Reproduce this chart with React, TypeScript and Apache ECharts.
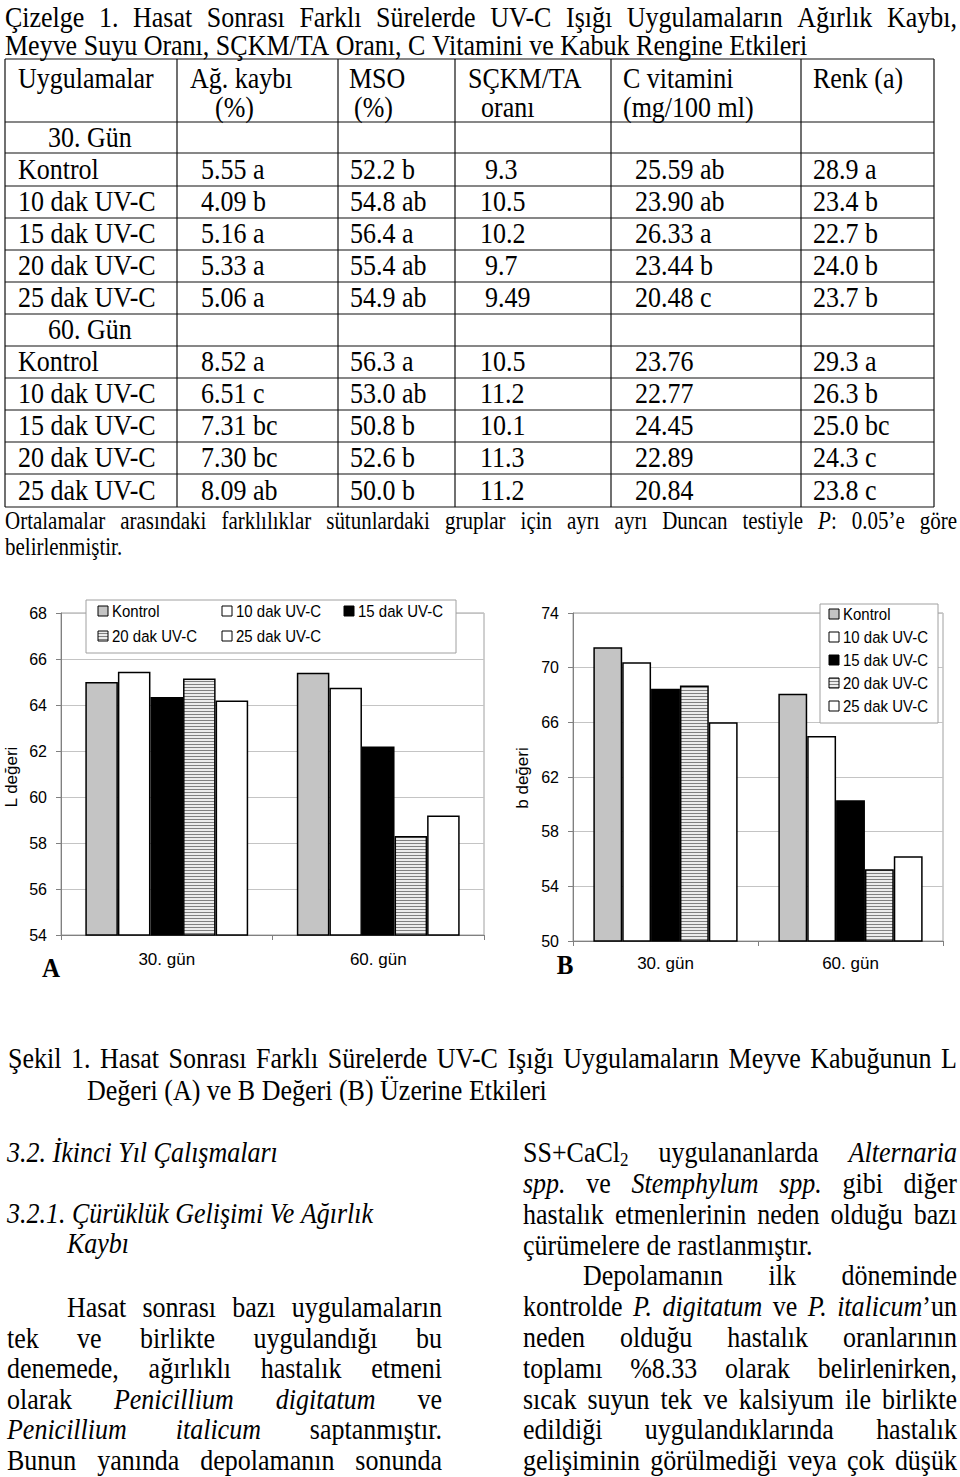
import React, { useEffect, useRef } from 'react';
import * as echarts from 'echarts';

// ---------- data ----------
const treatments = ['Kontrol', '10 dak UV-C', '15 dak UV-C', '20 dak UV-C', '25 dak UV-C'];
const days = ['30. gün', '60. gün'];
// L value (chart A) per treatment: [30. gün, 60. gün]
const lKontrol = [65.0, 65.4];
const l10dak = [65.45, 64.75];
const l15dak = [64.35, 62.2];
const l20dak = [65.15, 58.3];
const l25dak = [64.2, 59.2];
// b value (chart B) per treatment: [30. gün, 60. gün]
const bKontrol = [71.5, 68.1];
const b10dak = [70.4, 65.0];
const b15dak = [68.45, 60.3];
const b20dak = [68.7, 55.25];
const b25dak = [66.0, 56.2];
const lTickLabels = [54, 56, 58, 60, 62, 64, 66, 68];
const bTickLabels = [50, 54, 58, 62, 66, 70, 74];

// table
const tableHeaders1 = ['Uygulamalar', 'Ağ. kaybı', 'MSO', 'SÇKM/TA', 'C vitamini', 'Renk (a)'];
const tableHeaders2 = ['', '(%)', '(%)', 'oranı', '(mg/100 ml)', ''];
const dayLabels = ['30. Gün', '60. Gün'];
const agKaybi30 = ['5.55 a', '4.09 b', '5.16 a', '5.33 a', '5.06 a'];
const mso30 = ['52.2 b', '54.8 ab', '56.4 a', '55.4 ab', '54.9 ab'];
const sckm30 = ['9.3', '10.5', '10.2', '9.7', '9.49'];
const cvit30 = ['25.59 ab', '23.90 ab', '26.33 a', '23.44 b', '20.48 c'];
const renk30 = ['28.9 a', '23.4 b', '22.7 b', '24.0 b', '23.7 b'];
const agKaybi60 = ['8.52 a', '6.51 c', '7.31 bc', '7.30 bc', '8.09 ab'];
const mso60 = ['56.3 a', '53.0 ab', '50.8 b', '52.6 b', '50.0 b'];
const sckm60 = ['10.5', '11.2', '10.1', '11.3', '11.2'];
const cvit60 = ['23.76', '22.77', '24.45', '22.89', '20.84'];
const renk60 = ['29.3 a', '26.3 b', '25.0 bc', '24.3 c', '23.8 c'];

// ---------- layout ----------
const SERIF = '"Liberation Serif", "Times New Roman", serif';
const SANS = '"Liberation Sans", Arial, sans-serif';
const SY = 1.15;

let mctx: CanvasRenderingContext2D | null = null;
function measure(t: string, font: string) {
  if (!mctx) mctx = document.createElement('canvas').getContext('2d');
  mctx!.font = font;
  return mctx!.measureText(t).width;
}

function fontStr(size: number, italic = false, bold = false, family = SERIF) {
  return `${italic ? 'italic ' : ''}${bold ? 'bold ' : ''}${size}px ${family}`;
}

function txt(x: number, y: number, text: string, size: number, opt: any = {}) {
  return {
    type: 'text',
    x,
    y,
    rotation: opt.rotation || 0,
    scaleY: opt.sy ?? SY,
    z: opt.z ?? 50,
    silent: true,
    style: {
      text,
      x: 0,
      y: 0,
      fill: '#000',
      font: fontStr(size, opt.italic, opt.bold, opt.family || SERIF),
      textAlign: opt.align || 'left',
      textVerticalAlign: 'middle',
    },
  };
}

type Run = { t: string; it: boolean; sub: boolean };
function parseLine(s: string): Run[][] {
  const words: Run[][] = [];
  let it = false;
  let sub = false;
  let cur: Run[] = [];
  let buf = '';
  const flush = () => {
    if (buf) cur.push({ t: buf, it, sub });
    buf = '';
  };
  for (const ch of s) {
    if (ch === '*') { flush(); it = !it; }
    else if (ch === '~') { flush(); sub = !sub; }
    else if (ch === ' ') { flush(); if (cur.length) words.push(cur); cur = []; }
    else buf += ch;
  }
  flush();
  if (cur.length) words.push(cur);
  return words;
}

function layoutLine(out: any[], s: string, left: number, right: number, y: number, size: number, justify: boolean) {
  const words = parseLine(s);
  const rf = (r: Run) => fontStr(r.sub ? Math.round(size * 0.66) : size, r.it);
  const widths = words.map((w) => w.reduce((a, r) => a + measure(r.t, rf(r)), 0));
  const total = widths.reduce((a, b) => a + b, 0);
  const gap = justify && words.length > 1 ? (right - left - total) / (words.length - 1) : measure(' ', fontStr(size));
  let x = left;
  words.forEach((w, i) => {
    let cx = x;
    w.forEach((r) => {
      const sz = r.sub ? Math.round(size * 0.66) : size;
      out.push(txt(cx, y + (r.sub ? size * 0.28 : 0), r.t, sz, { italic: r.it }));
      cx += measure(r.t, rf(r));
    });
    x += widths[i] + gap;
  });
}

function stripePattern() {
  const c = document.createElement('canvas');
  c.width = 4;
  c.height = 3;
  const g = c.getContext('2d')!;
  g.fillStyle = '#ececec';
  g.fillRect(0, 0, 4, 3);
  g.fillStyle = '#808080';
  g.fillRect(0, 0, 4, 1);
  return { image: c.toDataURL(), repeat: 'repeat', imageWidth: 4, imageHeight: 3 } as any;
}

function buildOption() {
  const stripe = stripePattern();
  const fills: any[] = ['#c4c4c4', '#ffffff', '#000000', stripe, '#ffffff'];
  const lSeries = [lKontrol, l10dak, l15dak, l20dak, l25dak];
  const bSeries = [bKontrol, b10dak, b15dak, b20dak, b25dak];

  const g: any[] = [];

  // Title
  layoutLine(g, 'Çizelge 1. Hasat Sonrası Farklı Sürelerde UV-C Işığı Uygulamaların Ağırlık Kaybı,', 5, 957, 17, 26, true);
  layoutLine(g, 'Meyve Suyu Oranı, SÇKM/TA Oranı, C Vitamini ve Kabuk Rengine Etkileri', 5, 957, 45, 26, false);

  // Table grid
  const rowLines = [59, 122, 153, 186, 218, 250, 282, 314, 346, 378, 410, 442, 474, 507];
  const colLines = [5, 177, 338, 455, 611, 801, 934];
  rowLines.forEach((y) =>
    g.push({ type: 'line', silent: true, z: 40, shape: { x1: colLines[0], y1: y, x2: colLines[colLines.length - 1], y2: y }, style: { stroke: '#111', lineWidth: 1.2 } })
  );
  colLines.forEach((x) =>
    g.push({ type: 'line', silent: true, z: 40, shape: { x1: x, y1: rowLines[0], x2: x, y2: rowLines[rowLines.length - 1] }, style: { stroke: '#111', lineWidth: 1.2 } })
  );
  const h1x = [18, 190, 349, 468, 623, 813];
  const h2x = [0, 215, 354, 481, 623, 0];
  tableHeaders1.forEach((t, i) => g.push(txt(h1x[i], 78, t, 26)));
  tableHeaders2.forEach((t, i) => { if (t) g.push(txt(h2x[i], 107, t, 26)); });
  const rowC = (r: number) => (rowLines[r] + rowLines[r + 1]) / 2 - 1;
  const blocks = [
    [agKaybi30, mso30, sckm30, cvit30, renk30],
    [agKaybi60, mso60, sckm60, cvit60, renk60],
  ];
  blocks.forEach((cols, b) => {
    const base = 1 + b * 6;
    g.push(txt(48, rowC(base), dayLabels[b], 26));
    treatments.forEach((name, i) => {
      const y = rowC(base + 1 + i);
      g.push(txt(18, y, name, 26));
      g.push(txt(201, y, cols[0][i], 26));
      g.push(txt(350, y, cols[1][i], 26));
      g.push(txt(cols[2][i].startsWith('9') ? 485 : 480, y, cols[2][i], 26));
      g.push(txt(635, y, cols[3][i], 26));
      g.push(txt(813, y, cols[4][i], 26));
    });
  });

  // Footnote
  layoutLine(g, 'Ortalamalar arasındaki farklılıklar sütunlardaki gruplar için ayrı ayrı Duncan testiyle *P*: 0.05’e göre', 5, 957, 521, 21, true);
  layoutLine(g, 'belirlenmiştir.', 5, 957, 547, 21, false);

  // Legends
  const legendA = [[98, 611], [222, 611], [344, 611], [98, 636], [222, 636]];
  g.push({ type: 'rect', z: 90, silent: true, shape: { x: 86, y: 600, width: 370, height: 53 }, style: { fill: '#fff', stroke: '#a0a0a0', lineWidth: 1 } });
  treatments.forEach((t, i) => {
    const [x, y] = legendA[i];
    g.push({ type: 'rect', z: 95, silent: true, shape: { x, y: y - 5, width: 10, height: 10 }, style: { fill: fills[i], stroke: '#000', lineWidth: 1 } });
    g.push(txt(x + 14, y, t, 15, { family: SANS, z: 95 }));
  });
  const legendBy = [614, 637, 660, 683, 706];
  g.push({ type: 'rect', z: 90, silent: true, shape: { x: 820, y: 604, width: 118, height: 119 }, style: { fill: '#fff', stroke: '#a0a0a0', lineWidth: 1 } });
  treatments.forEach((t, i) => {
    const y = legendBy[i];
    g.push({ type: 'rect', z: 95, silent: true, shape: { x: 829, y: y - 5, width: 10, height: 10 }, style: { fill: fills[i], stroke: '#000', lineWidth: 1 } });
    g.push(txt(843, y, t, 15, { family: SANS, z: 95 }));
  });

  // Axis names and panel letters
  g.push(txt(11, 777, 'L değeri', 17, { family: SANS, rotation: Math.PI / 2, align: 'center', sy: 1 }));
  g.push(txt(522, 778, 'b değeri', 17, { family: SANS, rotation: Math.PI / 2, align: 'center', sy: 1 }));
  g.push(txt(51, 968, 'A', 25, { bold: true, align: 'center', sy: 1.05 }));
  g.push(txt(565, 965, 'B', 25, { bold: true, align: 'center', sy: 1.05 }));

  // Caption
  layoutLine(g, 'Şekil 1. Hasat Sonrası Farklı Sürelerde UV-C Işığı Uygulamaların Meyve Kabuğunun L', 8, 957, 1058, 26, true);
  layoutLine(g, 'Değeri (A) ve B Değeri (B) Üzerine Etkileri', 87, 957, 1090, 26, false);

  // Body text left column
  layoutLine(g, '*3.2. İkinci Yıl Çalışmaları*', 7, 442, 1152, 26, false);
  layoutLine(g, '*3.2.1. Çürüklük Gelişimi Ve Ağırlık*', 7, 442, 1213, 26, false);
  layoutLine(g, '*Kaybı*', 67, 442, 1243, 26, false);
  const leftLines = [
    'Hasat sonrası bazı uygulamaların',
    'tek ve birlikte uygulandığı bu',
    'denemede, ağırlıklı hastalık etmeni',
    'olarak *Penicillium digitatum* ve',
    '*Penicillium italicum* saptanmıştır.',
    'Bunun yanında depolamanın sonunda',
  ];
  leftLines.forEach((l, i) => layoutLine(g, l, i === 0 ? 67 : 7, 442, 1307 + i * 30.5, 26, true));

  // Body text right column
  const rightLines = [
    'SS+CaCl~2~ uygulananlarda *Alternaria*',
    '*spp.* ve *Stemphylum spp.* gibi diğer',
    'hastalık etmenlerinin neden olduğu bazı',
    'çürümelere de rastlanmıştır.',
    'Depolamanın ilk döneminde',
    'kontrolde *P. digitatum* ve *P. italicum*’un',
    'neden olduğu hastalık oranlarının',
    'toplamı %8.33 olarak belirlenirken,',
    'sıcak suyun tek ve kalsiyum ile birlikte',
    'edildiği uygulandıklarında hastalık',
    'gelişiminin görülmediği veya çok düşük',
  ];
  rightLines.forEach((l, i) => layoutLine(g, l, i === 4 ? 583 : 523, 957, 1152 + i * 30.8, 26, i !== 3));

  const axisGray = '#808080';
  const mkX = (gi: number, margin: number) => ({
    type: 'category',
    gridIndex: gi,
    data: days,
    axisLine: { lineStyle: { color: axisGray, width: 1 } },
    axisTick: { show: true, length: 5, lineStyle: { color: axisGray } },
    axisLabel: { color: '#000', fontSize: 17, fontFamily: SANS, margin },
    splitLine: { show: false },
  });
  const mkY = (gi: number, ticks: number[]) => ({
    type: 'value',
    gridIndex: gi,
    min: ticks[0],
    max: ticks[ticks.length - 1],
    interval: ticks[1] - ticks[0],
    axisLine: { show: true, lineStyle: { color: axisGray, width: 1 } },
    axisTick: { show: true, length: 5, lineStyle: { color: axisGray } },
    axisLabel: { color: '#000', fontSize: 16, fontFamily: SANS, margin: 14 },
    splitLine: { show: true, lineStyle: { color: '#c4c4c4', width: 1 } },
  });

  const series: any[] = [];
  treatments.forEach((t, i) => {
    series.push({
      name: t, type: 'bar', xAxisIndex: 0, yAxisIndex: 0, data: lSeries[i],
      barGap: '0%', barCategoryGap: '23%',
      itemStyle: { color: fills[i], borderColor: '#000', borderWidth: 1.5 },
      emphasis: { disabled: true },
    });
  });
  treatments.forEach((t, i) => {
    series.push({
      name: t, type: 'bar', xAxisIndex: 1, yAxisIndex: 1, data: bSeries[i],
      barGap: '0%', barCategoryGap: '22%',
      itemStyle: { color: fills[i], borderColor: '#000', borderWidth: 1.5 },
      emphasis: { disabled: true },
    });
  });

  return {
    animation: false,
    backgroundColor: '#ffffff',
    grid: [
      { left: 61, top: 613, width: 423, height: 322, show: true, borderColor: '#a0a0a0', borderWidth: 1, containLabel: false },
      { left: 573, top: 613, width: 370, height: 328, show: true, borderColor: '#a0a0a0', borderWidth: 1, containLabel: false },
    ],
    xAxis: [mkX(0, 16), mkX(1, 14)],
    yAxis: [mkY(0, lTickLabels), mkY(1, bTickLabels)],
    series,
    graphic: { elements: g },
  };
}

export default function App() {
  const ref = useRef<HTMLDivElement>(null);
  useEffect(() => {
    const chart = echarts.init(ref.current!, null, { renderer: 'svg' });
    chart.setOption(buildOption() as any);
    return () => chart.dispose();
  }, []);
  return (
    <div
      ref={ref}
      style={{ position: 'absolute', left: 0, top: 0, width: 960, height: 1477, background: '#fff' }}
    />
  );
}
